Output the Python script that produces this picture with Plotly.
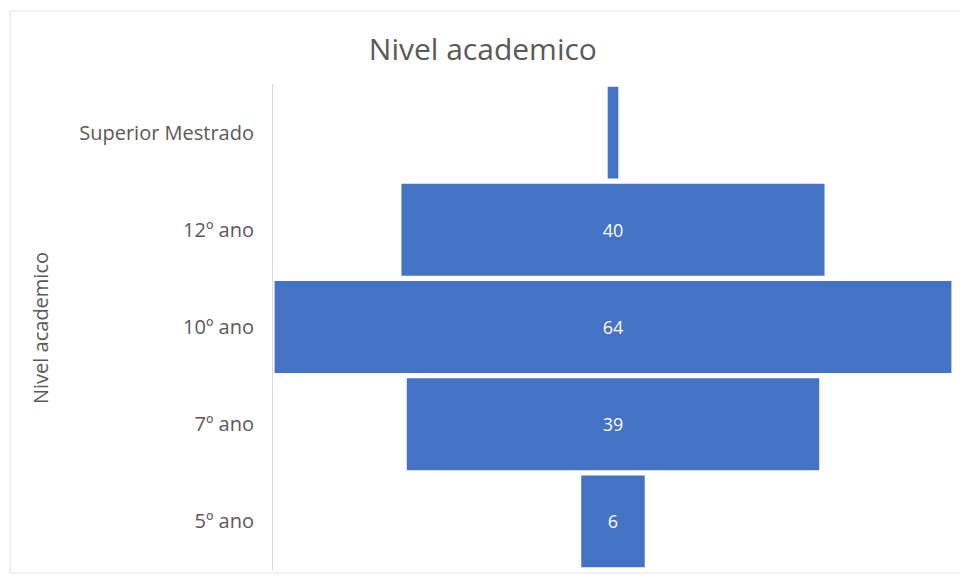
import plotly.graph_objects as go

categories = ["Superior Mestrado", "12º ano", "10º ano", "7º ano", "5º ano"]
values = [1, 40, 64, 39, 6]
value_labels = ["", "40", "64", "39", "6"]

W, H = 960, 580
ml, mr, mt, mb = 273, 7, 84, 10
pw = W - ml - mr
ph = H - mt - mb

fig = go.Figure(go.Funnel(
    y=categories,
    x=values,
    text=value_labels,
    textinfo="text",
    textposition="inside",
    insidetextanchor="middle",
    textfont=dict(color="white", size=18, family="Open Sans"),
    marker=dict(color="#4472C4", line=dict(width=0)),
    connector=dict(visible=False),
    hoverinfo="x+y",
))

fig.update_layout(
    width=W, height=H,
    margin=dict(l=ml, r=mr, t=mt, b=mb),
    paper_bgcolor="white",
    plot_bgcolor="white",
    showlegend=False,
    funnelgap=0.055,
    font=dict(family="Open Sans", color="#595959"),
    title=dict(text="Nivel academico", x=0.503, xanchor="center", y=0.915, yanchor="middle",
               font=dict(size=30, color="#595959", family="Open Sans")),
    xaxis=dict(visible=False, range=[-32.15, 32.15], fixedrange=True),
    yaxis=dict(
        showline=True, linecolor="#d9d9d9", linewidth=1,
        showgrid=False, zeroline=False,
        ticks="", ticklabelstandoff=14,
        tickfont=dict(size=20, color="#595959", family="Open Sans"),
        autorange="reversed",
    ),
    annotations=[dict(
        text="Nivel academico", textangle=-90,
        xref="paper", yref="paper",
        x=(40 - ml) / pw, y=(H - mb - 328) / ph,
        xanchor="center", yanchor="middle", showarrow=False,
        font=dict(size=20, color="#595959", family="Open Sans"),
    )],
    shapes=[dict(
        type="rect", xref="paper", yref="paper",
        x0=(10 - ml) / pw, x1=(W + 5 - ml) / pw,
        y0=(H - mb - 573) / ph, y1=(H - mb - 11) / ph,
        line=dict(color="#e3e3e3", width=1), layer="below",
    )],
)

fig.write_html("out.html")
